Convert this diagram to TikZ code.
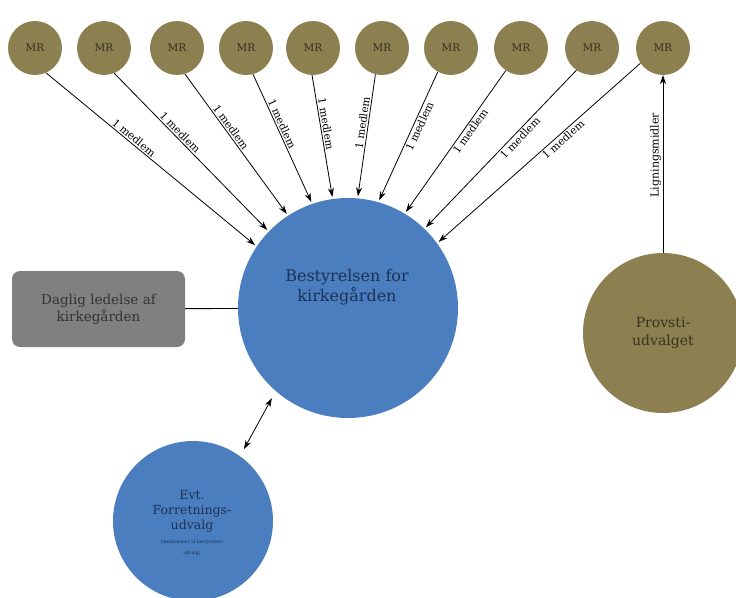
\documentclass[tikz,border=0pt]{standalone}
\usepackage{fontspec}
\setmainfont{DejaVu Serif}
\usetikzlibrary{arrows.meta}
\definecolor{olive}{RGB}{140,128,80}
\definecolor{bblue}{RGB}{74,126,191}
\definecolor{navy}{RGB}{28,50,85}
\definecolor{boxgray}{RGB}{128,128,128}
\definecolor{mrtext}{RGB}{55,50,30}
\tikzset{
  mr/.style={circle,fill=olive,minimum size=54pt,inner sep=0pt,font=\fontsize{10.5}{12}\selectfont,text=mrtext},
  bigc/.style={circle,inner sep=0pt,align=center},
  tip/.style={Stealth[length=9pt,width=6pt]},
  arr/.style={-{Stealth[length=9pt,width=6pt]},line width=0.8pt},
  lab/.style={font=\fontsize{10.5}{12}\selectfont,sloped,inner sep=1.5pt}
}
\begin{document}
\begin{tikzpicture}[x=1pt,y=-1pt]
\useasboundingbox (0,0) rectangle (736,597);
\foreach \i/\x in {1/35,2/104,3/177,4/246,5/313,6/382,7/451,8/521,9/592,10/663}{
  \node[mr] (mr\i) at (\x,48) {MR};
}
\node[bigc,fill=bblue,minimum size=220pt] (best) at (348,308) {};
\node[align=center,text=navy,font=\fontsize{16}{20}\selectfont] (bestt) at (347,287) {Bestyrelsen for\\kirkegården};
\node[bigc,fill=olive,minimum size=160pt,text=mrtext,font=\fontsize{14}{18}\selectfont] (prov) at (663,333) {Provsti-\\udvalget};
\node[bigc,fill=bblue,minimum size=160pt] (evt) at (193,521) {};
\node[align=center,text=navy,font=\fontsize{12.5}{15}\selectfont,inner sep=0pt] (evtt) at (192,523) {Evt.\\Forretnings-\\udvalg\\[-1pt]{\fontsize{4.5}{5}\selectfont (medlemmer af bestyrelsen}\\[-4pt]{\fontsize{4.5}{5}\selectfont udvalg)}};
\node[draw=none,fill=boxgray,rounded corners=8pt,minimum width=173pt,minimum height=76pt,align=center,text=black!80,font=\fontsize{13.5}{17}\selectfont] (box) at (98.5,309) {Daglig ledelse af\\kirkegården};

\foreach \i/\s/\e in {1/-66/146,2/-68/136,3/-73/123,4/-75/109,5/-92/98,6/-104/85}{
  \draw[arr,shorten >=2pt] (mr\i.\s) -- node[lab,pos=0.4,above] {1 medlem} (best.\e);
}
\foreach \i/\s/\e in {7/-119/74,8/-124/59,9/-125/46,10/-146/36}{
  \draw[arr,shorten >=2pt] (mr\i.\s) -- node[lab,pos=0.4,below] {1 medlem} (best.\e);
}
\draw[arr] (prov) -- node[lab,pos=0.55,above,font=\fontsize{11}{12}\selectfont] {Ligningsmidler} (mr10);
\draw[line width=0.9pt] (box) -- (best);
\draw[{Stealth[length=9pt,width=6pt]}-{Stealth[length=9pt,width=6pt]},line width=0.8pt,shorten <=8pt,shorten >=8pt] (evt.54) -- (best.229);
\end{tikzpicture}
\end{document}
